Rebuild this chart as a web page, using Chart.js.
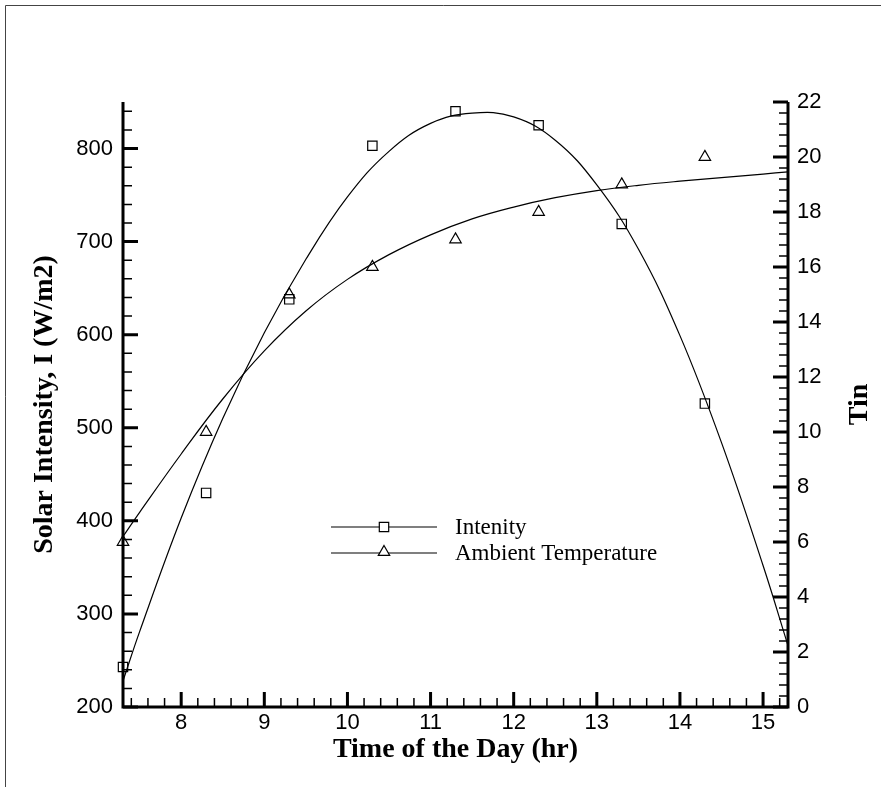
<!DOCTYPE html>
<html>
<head>
<meta charset="utf-8">
<script src="https://cdn.jsdelivr.net/npm/chart.js@4.4.0/dist/chart.umd.min.js"></script>
<style>
  html, body { margin: 0; padding: 0; background: #fff; }
  canvas { display: block; }
</style>
</head>
<body>
<canvas id="solarChart" width="881" height="787"></canvas>
<script>
// measured points
const timeHr = [7.3, 8.3, 9.3, 10.3, 11.3, 12.3, 13.3, 14.3];
const intensity = [243, 430, 638, 803, 840, 825, 719, 526];
const ambientTemp = [6, 10, 15, 16, 17, 18, 19, 20];

// fitted curves
const fitTime = [7.3, 7.5, 8, 8.5, 9, 9.5, 10, 10.5, 11, 11.5, 12, 12.5, 13, 13.5, 14, 14.5, 15, 15.3];
const intensityFit = [228, 281, 403, 510, 602, 681, 748, 797, 827, 838, 834, 809, 761, 692, 599, 484, 352, 266];
const tempFit = [6.2, 7.08, 9.2, 11.2, 12.95, 14.4, 15.55, 16.45, 17.17, 17.75, 18.18, 18.52, 18.78, 18.97, 19.12, 19.25, 19.38, 19.46];

// axis ticks
const xTicks = [8, 9, 10, 11, 12, 13, 14, 15];
const leftTicks = [200, 300, 400, 500, 600, 700, 800];
const rightTicks = [0, 2, 4, 6, 8, 10, 12, 14, 16, 18, 20, 22];
const legendLabels = ['Intenity', 'Ambient Temperature'];

const SANS = '"Liberation Sans", Arial, Helvetica, sans-serif';
const SERIF = '"Liberation Serif", "Times New Roman", serif';

function pts(xs, ys) {
  return xs.map((x, i) => ({ x: x, y: ys[i] }));
}

function minorValues(min, max, step, majorStep) {
  const out = [];
  const n = Math.round((max - min) / step) + 2;
  const start = Math.ceil(min / step - 1e-6);
  for (let k = start; k < start + n; k++) {
    const v = Math.round(k * step * 1000) / 1000;
    if (v < min - 1e-6 || v > max + 1e-6) continue;
    const r = v / majorStep;
    if (Math.abs(r - Math.round(r)) < 1e-6) continue;
    out.push(v);
  }
  return out;
}

function tickMarks(ctx, scale, values, len, width, side, a) {
  ctx.lineWidth = width;
  ctx.beginPath();
  values.forEach(v => {
    const p = scale.getPixelForValue(v);
    if (side === 'left') { ctx.moveTo(a.left, p); ctx.lineTo(a.left + len, p); }
    else if (side === 'right') { ctx.moveTo(a.right, p); ctx.lineTo(a.right - len, p); }
    else { ctx.moveTo(p, a.bottom); ctx.lineTo(p, a.bottom - len); }
  });
  ctx.stroke();
}

const decorations = {
  id: 'decorations',
  afterDraw(chart) {
    const { ctx, chartArea: a, scales } = chart;
    ctx.save();
    ctx.strokeStyle = '#000';
    ctx.fillStyle = '#000';
    ctx.lineCap = 'butt';

    // outer frame (top + left only visible)
    ctx.strokeStyle = '#444';
    ctx.lineWidth = 1;
    ctx.beginPath();
    ctx.moveTo(5.5, 787);
    ctx.lineTo(5.5, 5.5);
    ctx.lineTo(881, 5.5);
    ctx.stroke();
    ctx.strokeStyle = '#000';

    // axis lines
    ctx.lineWidth = 3;
    ctx.beginPath();
    ctx.moveTo(a.left, a.top);
    ctx.lineTo(a.left, a.bottom);
    ctx.lineTo(a.right, a.bottom);
    ctx.lineTo(a.right, a.top);
    ctx.stroke();

    // major ticks
    tickMarks(ctx, scales.x, xTicks, 15, 3, 'bottom', a);
    tickMarks(ctx, scales.y, leftTicks, 15, 3, 'left', a);
    tickMarks(ctx, scales.y2, rightTicks, 15, 3, 'right', a);

    // minor ticks
    tickMarks(ctx, scales.x, minorValues(scales.x.min, scales.x.max, 0.2, 1), 9, 1.5, 'bottom', a);
    tickMarks(ctx, scales.y, minorValues(scales.y.min, scales.y.max, 20, 100), 9, 1.5, 'left', a);
    tickMarks(ctx, scales.y2, minorValues(scales.y2.min, scales.y2.max, 0.4, 2), 9, 1.5, 'right', a);

    // right axis title, reads bottom to top
    ctx.save();
    ctx.translate(860, (a.top + a.bottom) / 2);
    ctx.rotate(-Math.PI / 2);
    ctx.font = 'bold 28px ' + SERIF;
    ctx.textAlign = 'center';
    ctx.textBaseline = 'middle';
    ctx.fillText('Tin', 0, 0);
    ctx.restore();

    // legend
    const rows = [527, 553];
    ctx.lineWidth = 1.2;
    rows.forEach((y, i) => {
      ctx.beginPath();
      ctx.moveTo(331, y);
      ctx.lineTo(437, y);
      ctx.stroke();
      ctx.fillStyle = '#fff';
      ctx.beginPath();
      if (i === 0) {
        ctx.rect(384 - 4.7, y - 4.7, 9.4, 9.4);
      } else {
        ctx.moveTo(384, y - 7.5);
        ctx.lineTo(384 + 5.7, y + 2.4);
        ctx.lineTo(384 - 5.7, y + 2.4);
        ctx.closePath();
      }
      ctx.fill();
      ctx.stroke();
      ctx.fillStyle = '#000';
      ctx.font = '23px ' + SERIF;
      ctx.textAlign = 'left';
      ctx.textBaseline = 'middle';
      ctx.fillText(legendLabels[i], 455, y + 1);
    });

    ctx.restore();
  }
};

const tickFont = { family: SANS, size: 22 };
const titleFont = { family: SERIF, size: 28, weight: 'bold' };

new Chart(document.getElementById('solarChart'), {
  type: 'scatter',
  data: {
    datasets: [
      {
        label: 'Intenity fit',
        data: pts(fitTime, intensityFit),
        yAxisID: 'y',
        showLine: true,
        pointRadius: 0,
        pointHoverRadius: 0,
        borderColor: '#000',
        borderWidth: 1.2,
        tension: 0.4
      },
      {
        label: 'Ambient Temperature fit',
        data: pts(fitTime, tempFit),
        yAxisID: 'y2',
        showLine: true,
        pointRadius: 0,
        pointHoverRadius: 0,
        borderColor: '#000',
        borderWidth: 1.2,
        tension: 0.4
      },
      {
        label: legendLabels[0],
        data: pts(timeHr, intensity),
        yAxisID: 'y',
        pointStyle: 'rect',
        pointRadius: 6.6,
        pointBorderWidth: 1.2,
        pointBorderColor: '#000',
        pointBackgroundColor: 'rgba(0,0,0,0)',
        clip: false
      },
      {
        label: legendLabels[1],
        data: pts(timeHr, ambientTemp),
        yAxisID: 'y2',
        pointStyle: 'triangle',
        pointRadius: 6.6,
        pointBorderWidth: 1.2,
        pointBorderColor: '#000',
        pointBackgroundColor: 'rgba(0,0,0,0)',
        clip: false
      }
    ]
  },
  options: {
    responsive: false,
    animation: false,
    devicePixelRatio: 1,
    layout: { padding: { top: 102, left: 0, right: 0, bottom: 0 } },
    plugins: {
      legend: { display: false },
      tooltip: { enabled: false }
    },
    scales: {
      x: {
        type: 'linear',
        position: 'bottom',
        min: 7.3,
        max: 15.3,
        afterBuildTicks: s => { s.ticks = xTicks.map(v => ({ value: v })); },
        afterFit: s => { s.height = 80; },
        grid: { display: false, drawTicks: false },
        border: { display: false },
        ticks: { padding: 3, color: '#000', font: tickFont, autoSkip: false, maxRotation: 0 },
        title: {
          display: true,
          text: 'Time of the Day (hr)',
          color: '#000',
          font: titleFont,
          padding: { top: 0, bottom: 20 }
        }
      },
      y: {
        type: 'linear',
        position: 'left',
        min: 200,
        max: 850,
        afterBuildTicks: s => { s.ticks = leftTicks.map(v => ({ value: v })); },
        afterFit: s => { s.width = 123; },
        grid: { display: false, drawTicks: false },
        border: { display: false },
        ticks: { padding: 10, color: '#000', font: tickFont, autoSkip: false },
        title: {
          display: true,
          text: 'Solar Intensity, I (W/m2)',
          color: '#000',
          font: titleFont,
          padding: { top: 28, bottom: 0 }
        }
      },
      y2: {
        type: 'linear',
        position: 'right',
        min: 0,
        max: 22,
        afterBuildTicks: s => { s.ticks = rightTicks.map(v => ({ value: v })); },
        afterFit: s => { s.width = 93; },
        grid: { display: false, drawTicks: false },
        border: { display: false },
        ticks: { padding: 9, color: '#000', font: tickFont, autoSkip: false }
      }
    }
  },
  plugins: [decorations]
});
</script>
</body>
</html>
